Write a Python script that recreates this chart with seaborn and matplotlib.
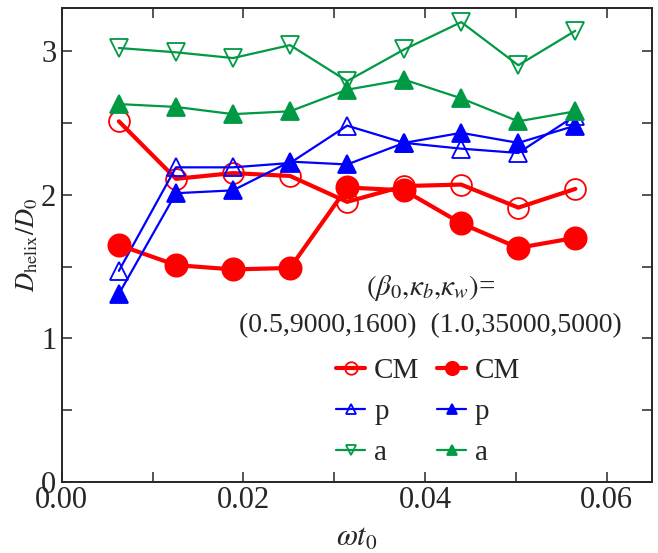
import numpy as np
import pandas as pd
import matplotlib
matplotlib.use("Agg")
import matplotlib.pyplot as plt
import matplotlib.ticker as mticker
import seaborn as sns

# ── Data ─────────────────────────────────────────────────────────────────────
omega_t0 = [0.00628, 0.01257, 0.01885, 0.02513, 0.03142,
            0.03770, 0.04398, 0.05027, 0.05655]

# (beta0, kb, kw) = (0.5, 9000, 1600)  -> open markers
cm_open = [2.51, 2.11, 2.15, 2.13, 1.95, 2.06, 2.07, 1.91, 2.04]
p_open  = [1.47, 2.19, 2.19, 2.22, 2.48, 2.36, 2.32, 2.29, 2.55]
a_open  = [3.02, 2.99, 2.95, 3.04, 2.79, 3.01, 3.20, 2.90, 3.14]

# (beta0, kb, kw) = (1.0, 35000, 5000) -> filled markers
cm_fill = [1.65, 1.51, 1.48, 1.49, 2.05, 2.03, 1.80, 1.63, 1.70]
p_fill  = [1.31, 2.01, 2.03, 2.23, 2.21, 2.36, 2.43, 2.36, 2.48]
a_fill  = [2.63, 2.61, 2.56, 2.58, 2.73, 2.80, 2.67, 2.51, 2.58]

RED   = "#FF0000"
BLUE  = "#0000FF"
GREEN = "#009944"

# ── Style ────────────────────────────────────────────────────────────────────
sns.set_theme(style="ticks")
plt.rcParams.update({
    "font.family":       ["Liberation Serif", "DejaVu Serif"],
    "font.serif":        ["Liberation Serif", "DejaVu Serif"],
    "mathtext.fontset":  "stix",
    "font.size":         21,
    "axes.linewidth":    1.4,
    "xtick.direction":   "in",
    "ytick.direction":   "in",
    "xtick.top":         True,
    "ytick.right":       True,
    "xtick.major.size":  7,
    "ytick.major.size":  7,
    "xtick.minor.size":  7,
    "ytick.minor.size":  7,
    "xtick.major.width": 1.1,
    "ytick.major.width": 1.1,
    "xtick.minor.width": 1.1,
    "ytick.minor.width": 1.1,
    "xtick.labelsize":   22,
    "ytick.labelsize":   22,
})

df = pd.DataFrame({"x": omega_t0,
                   "cm_o": cm_open, "p_o": p_open, "a_o": a_open,
                   "cm_f": cm_fill, "p_f": p_fill, "a_f": a_fill})

fig = plt.figure(figsize=(6.58, 5.53), dpi=100)
ax = fig.add_axes([0.094, 0.128, 0.897, 0.858])

series = [
    # col, colour, marker, filled, line width, marker size, label
    ("cm_o", RED,   "o", False, 3.0, 15, "CM"),
    ("p_o",  BLUE,  "^", False, 1.6, 13, "p"),
    ("a_o",  GREEN, "v", False, 1.6, 13, "a"),
    ("cm_f", RED,   "o", True,  3.0, 16, "CM"),
    ("p_f",  BLUE,  "^", True,  1.6, 13, "p"),
    ("a_f",  GREEN, "^", True,  1.6, 13, "a"),
]

handles = []
for col, clr, mk, filled, lw, ms, lab in series:
    sns.lineplot(data=df, x="x", y=col, ax=ax, color=clr, linewidth=lw,
                 marker=mk, markersize=ms, markeredgewidth=1.3,
                 markerfacecolor=clr if filled else "none",
                 markeredgecolor=clr, sort=False, label=lab)
    handles.append(ax.lines[-1])

ax.set_xlim(0, 0.065)
ax.set_ylim(0, 3.3)
ax.xaxis.set_major_locator(mticker.MultipleLocator(0.02))
ax.xaxis.set_minor_locator(mticker.MultipleLocator(0.01))
ax.xaxis.set_major_formatter(mticker.FormatStrFormatter("%.2f"))
ax.yaxis.set_major_locator(mticker.MultipleLocator(1))
ax.yaxis.set_minor_locator(mticker.MultipleLocator(0.5))
ax.tick_params(axis="x", pad=3)
ax.tick_params(axis="y", pad=4)

ax.set_xlabel(r"$\omega t_{\mathit{0}}$", fontsize=22, labelpad=6)
ax.set_ylabel(r"$D_{\rm helix}/D_0$", fontsize=19, labelpad=1)

ax.text(0.625, 0.409, r"$(\beta_0{,}\kappa_b{,}\kappa_w)$=",
        transform=ax.transAxes, ha="center", va="center", fontsize=21)
ax.text(0.624, 0.331, "(0.5,9000,1600)  (1.0,35000,5000)",
        transform=ax.transAxes, ha="center", va="center", fontsize=20)

ax.legend(handles=handles, labels=[h.get_label() for h in handles],
          ncol=2, frameon=False, loc="upper left",
          bbox_to_anchor=(0.465, 0.262), borderpad=0, borderaxespad=0,
          handlelength=1.0, handletextpad=0.3, columnspacing=0.6,
          labelspacing=0.5, markerscale=0.6, fontsize=21)

fig.savefig("out.png", dpi=100)
